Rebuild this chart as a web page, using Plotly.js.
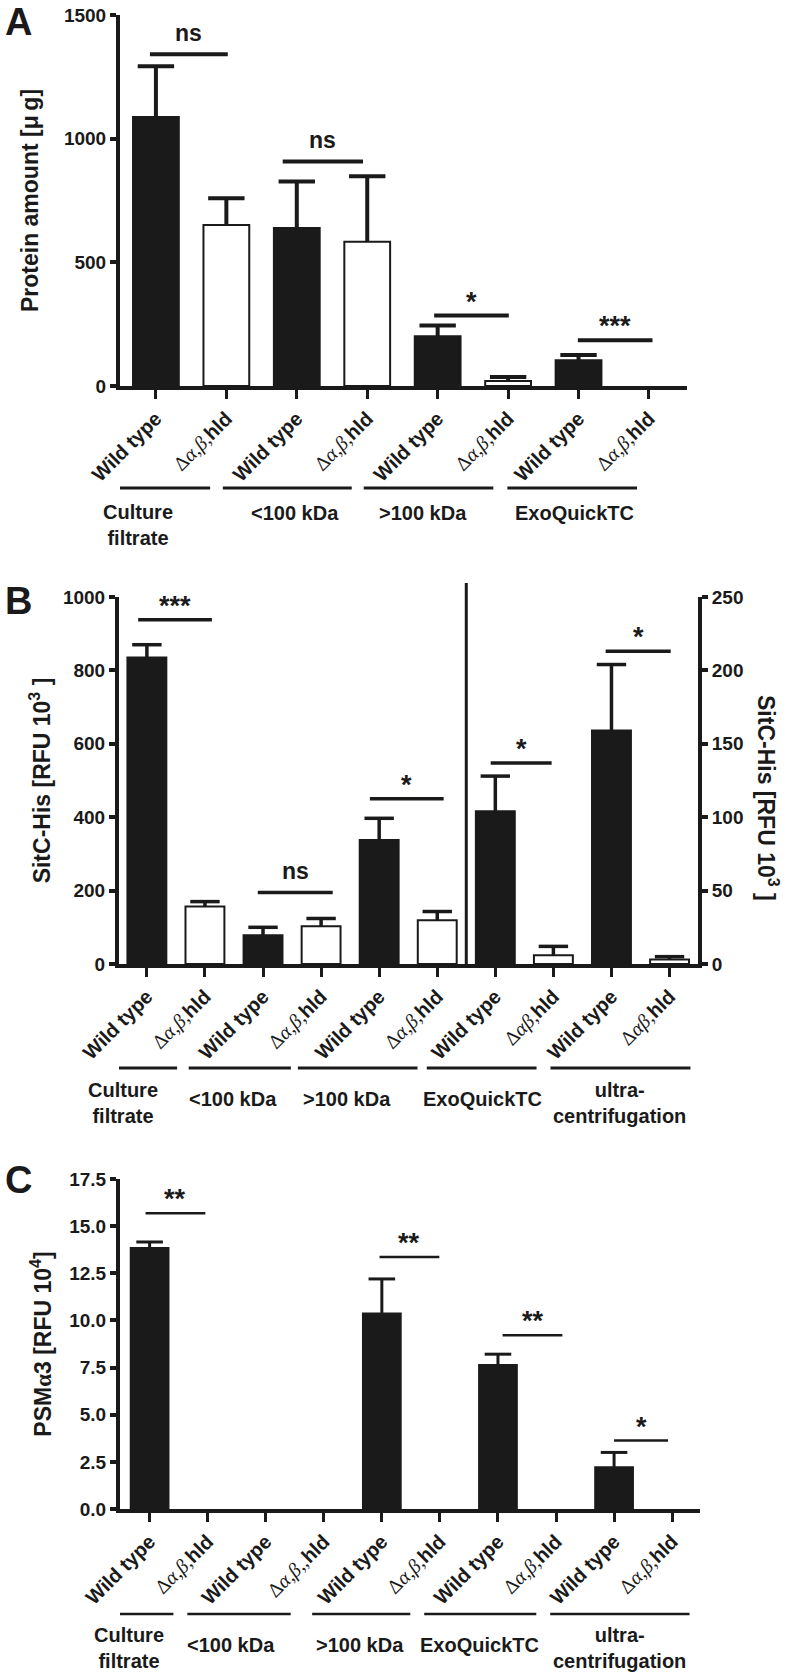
<!DOCTYPE html>
<html><head><meta charset="utf-8">
<script src="https://cdn.plot.ly/plotly-3.0.1.min.js"></script>
<style>html,body{margin:0;padding:0;background:#fff}#chart{width:800px;height:1672px}</style>
</head><body><div id="chart"></div>
<script>
// ---------------- data ----------------
const WT = '<b>Wild type</b>';
const GREEK = (s) => '<span style="font-family:Liberation Serif">' + s + '</span>';
const MUT = GREEK('Δ<i>α</i>,<i>β</i>,') + '<b>hld</b>';
const MUT_B = GREEK('Δ<i>αβ</i>,') + '<b>hld</b>';
const MUT_C = GREEK('Δ<i>α</i>,<i>β</i>,,') + '<b>hld</b>';

const ticksA = [WT, MUT, WT, MUT, WT, MUT, WT, MUT];
const ticksB = [WT, MUT, WT, MUT, WT, MUT, WT, MUT_B, WT, MUT_B];
const ticksC = [WT, MUT, WT, MUT_C, WT, MUT, WT, MUT, WT, MUT];

const groupsA = ['Culture<br>filtrate', '&lt;100 kDa', '&gt;100 kDa', 'ExoQuickTC'];
const groupsBC = ['Culture<br>filtrate', '&lt;100 kDa', '&gt;100 kDa', 'ExoQuickTC', 'ultra-<br>centrifugation'];

// Panel A: protein amount [µg]
const valuesA = [1088, 651, 639, 583, 201, 20, 104, 0];
const errorsA = [205, 108, 188, 265, 44, 16, 21, 0];
// Panel B: SitC-His [RFU 10^3]; first 6 on left axis, last 4 on right axis
const valuesB = [835, 157, 78, 103, 338, 119, 104, 6, 159, 3];
const errorsB = [35, 13, 22, 21, 59, 24, 24, 6, 45, 2];
const rightStartB = 6;
// Panel C: PSMα3 [RFU 10^4]
const valuesC = [13.84, 0, 0, 0, 10.37, 0, 7.63, 0, 2.21, 0];
const errorsC = [0.32, 0, 0, 0, 1.83, 0, 0.58, 0, 0.79, 0];

// significance brackets
const sigA_x0 = [-0.085, 1.80, 3.95, 5.99];
const sigA_x1 = [1.02, 2.94, 5.01, 7.05];
const sigA_y = [1341, 908, 285, 185];
const sigA_text = ['ns', 'ns', '*', '***'];

const sigB_x0 = [-0.15, 1.91, 3.84, 5.92, 7.90];
const sigB_x1 = [1.12, 3.20, 5.11, 6.97, 9.02];
const sigB_y = [938, 195, 450, 137, 213];
const sigB_text = ['***', 'ns', '*', '*', '*'];
const sigB_axis = ['left', 'left', 'left', 'right', 'right'];

const sigC_x0 = [-0.07, 3.96, 6.08, 8.00];
const sigC_x1 = [0.96, 4.99, 7.11, 8.93];
const sigC_y = [15.68, 13.37, 9.21, 3.63];
const sigC_text = ['**', '**', '**', '*'];

// ---------------- helpers ----------------
const INK = '#1a1a1a';
const FONT = 'Liberation Sans, Arial, sans-serif';
const H = 1672, W = 800;
const PY = px => 1 - px / H;
const PX = px => px / W;

const traces = [];
const annotations = [];
const shapes = [];

function addBars(vals, errs, idx, xa, ya, width, cap, lw) {
  const wt = idx.filter(i => i % 2 === 0), mu = idx.filter(i => i % 2 === 1);
  [[wt, INK], [mu, '#ffffff']].forEach(([ids, fill]) => {
    traces.push({type: 'bar', x: ids, y: ids.map(i => vals[i]), xaxis: xa, yaxis: ya, width: width,
      marker: {color: fill, line: {color: INK, width: ids.map(i => vals[i] > 0 ? 2 : 0)}}, hoverinfo: 'skip'});
  });
  const ex = [], ey = [], cx = [], cy = [];
  idx.forEach(i => {
    if (errs[i] > 0) {
      ex.push(i, i, null); ey.push(vals[i], vals[i] + errs[i], null);
      cx.push(i); cy.push(vals[i] + errs[i]);
    }
  });
  traces.push({type: 'scatter', mode: 'lines', x: ex, y: ey, xaxis: xa, yaxis: ya,
    line: {color: INK, width: lw}, hoverinfo: 'skip', cliponaxis: false});
  traces.push({type: 'scatter', mode: 'markers', x: cx, y: cy, xaxis: xa, yaxis: ya,
    marker: {symbol: 'line-ew', size: cap, color: INK, line: {color: INK, width: lw}}, hoverinfo: 'skip', cliponaxis: false});
}

function addSig(x0s, x1s, ys, texts, xa, yas, lw) {
  x0s.forEach((x0, k) => {
    const ya = Array.isArray(yas) ? yas[k] : yas;
    traces.push({type: 'scatter', mode: 'lines', x: [x0, x1s[k]], y: [ys[k], ys[k]], xaxis: xa, yaxis: ya,
      line: {color: INK, width: lw}, hoverinfo: 'skip', cliponaxis: false});
    const isNs = texts[k] === 'ns';
    annotations.push({xref: xa, yref: ya, x: (x0 + x1s[k]) / 2, y: ys[k], text: texts[k],
      showarrow: false, yanchor: 'bottom', yshift: isNs ? 6 : -3,
      font: {family: FONT, size: isNs ? 23 : 27, color: INK, weight: 'bold'}});
  });
}

function addGroups(labels, xa, labelX, lineX, lineY, oneLineY, twoLineY, lw) {
  labels.forEach((t, g) => {
    shapes.push({type: 'line', xref: xa, yref: 'paper', x0: lineX[g][0], x1: lineX[g][1],
      y0: PY(lineY), y1: PY(lineY), line: {color: INK, width: lw}});
    annotations.push({xref: xa, yref: 'paper', x: labelX[g], y: PY(t.includes('<br>') ? twoLineY : oneLineY),
      text: t, showarrow: false, xanchor: 'center', yanchor: 'middle',
      font: {family: FONT, size: 20, color: INK, weight: 'bold'}});
  });
}

// ---------------- Panel A ----------------
addBars(valuesA, errorsA, valuesA.map((_, i) => i), 'x', 'y', 0.65, 26, 4);
addSig(sigA_x0, sigA_x1, sigA_y, sigA_text, 'x', 'y', 4);
addGroups(groupsA, 'x', [-0.26, 1.97, 3.79, 5.94],
  [[-0.97, 0.77], [0.95, 2.78], [2.95, 4.79], [4.99, 6.83]], 488, 513, 525, 3);

// ---------------- Panel B ----------------
const idxB = valuesB.map((_, i) => i);
addBars(valuesB, errorsB, idxB.filter(i => i < rightStartB), 'x2', 'y2', 0.67, 21, 3.5);
addBars(valuesB, errorsB, idxB.filter(i => i >= rightStartB), 'x2', 'y4', 0.67, 21, 3.5);
addSig(sigB_x0, sigB_x1, sigB_y, sigB_text, 'x2', sigB_axis.map(a => a === 'left' ? 'y2' : 'y4'), 3.5);
addGroups(groupsBC, 'x2', [-0.41, 1.48, 3.44, 5.78, 8.14],
  [[-1.34, 0.52], [0.72, 2.48], [2.6, 4.66], [4.82, 6.71], [6.95, 9.36]], 1068, 1099, 1103, 3);
shapes.push({type: 'line', xref: 'x2', yref: 'paper', x0: rightStartB - 0.5, x1: rightStartB - 0.5,
  y0: PY(966), y1: PY(583), line: {color: INK, width: 3}});

// ---------------- Panel C ----------------
addBars(valuesC, errorsC, valuesC.map((_, i) => i), 'x3', 'y3', 0.65, 19, 3);
addSig(sigC_x0, sigC_x1, sigC_y, sigC_text, 'x3', 'y3', 2.5);
addGroups(groupsBC, 'x3', [-0.36, 1.41, 3.63, 5.68, 8.1],
  [[-1.14, 0.41], [0.65, 2.43], [2.8, 4.49], [4.73, 6.66], [6.9, 9.3]], 1614, 1645, 1648, 2.5);

// ---------------- letters / right title ----------------
const letters = [['A', 22], ['B', 601], ['C', 1180]];
letters.forEach(([t, y]) => annotations.push({xref: 'paper', yref: 'paper', x: PX(18), y: PY(y), text: t,
  showarrow: false, xanchor: 'center', yanchor: 'middle', font: {family: FONT, size: 38, color: INK, weight: 'bold'}}));

const TITLE_FONT = {family: FONT, size: 23, color: INK, weight: 'bold'};
const titleB = 'SitC-His [RFU 10<sup>3</sup> ]';
annotations.push({xref: 'paper', yref: 'paper', x: PX(768), y: PY(798), text: titleB,
  textangle: 90, showarrow: false, xanchor: 'center', yanchor: 'middle', font: TITLE_FONT});

// ---------------- axes ----------------
function xAxis(domain, range, ticktext, anchor) {
  return {domain: domain, range: range, anchor: anchor, showline: true, linewidth: 4, linecolor: INK,
    ticks: 'outside', ticklen: 9, tickwidth: 3, tickcolor: INK, tickvals: ticktext.map((_, i) => i),
    ticktext: ticktext, tickangle: -45, tickfont: {family: FONT, size: 20, color: INK},
    showgrid: false, zeroline: false, fixedrange: true};
}
function yAxis(domain, range, dtick, anchor, extra) {
  return Object.assign({domain: domain, range: range, anchor: anchor, showline: true, linewidth: 4, linecolor: INK,
    ticks: 'outside', ticklen: 6, tickwidth: 4, tickcolor: INK, dtick: dtick, tick0: 0,
    tickfont: {family: FONT, size: 19, color: INK, weight: 'bold'},
    showgrid: false, zeroline: false, fixedrange: true}, extra || {});
}

const layout = {
  width: W, height: H, margin: {l: 0, r: 0, t: 0, b: 0},
  paper_bgcolor: '#fff', plot_bgcolor: '#fff', showlegend: false, barmode: 'overlay',
  xaxis: xAxis([PX(120), PX(687)], [-0.51, 7.54], ticksA, 'y'),
  yaxis: yAxis([PY(386), PY(15)], [0, 1500], 500, 'x',
    {title: {text: 'Protein amount [μ\u2009g]', font: TITLE_FONT, standoff: 20}}),
  xaxis2: xAxis([PX(119), PX(698)], [-0.48, 9.49], ticksB, 'y2'),
  yaxis2: yAxis([PY(964), PY(597)], [0, 1000], 200, 'x2',
    {title: {text: titleB, font: TITLE_FONT, standoff: 7}}),
  yaxis4: yAxis([PY(964), PY(597)], [0, 250], 50, 'x2', {overlaying: 'y2', side: 'right'}),
  xaxis3: xAxis([PX(120), PX(700)], [-0.51, 9.48], ticksC, 'y3'),
  yaxis3: yAxis([PY(1509), PY(1179)], [0, 17.5], 2.5, 'x3',
    {tickformat: '.1f', title: {text: 'PSM' + GREEK('α') + '3 [RFU 10<sup>4</sup>]', font: TITLE_FONT, standoff: 12}}),
  annotations: annotations, shapes: shapes
};

Plotly.newPlot('chart', traces, layout, {staticPlot: true, displayModeBar: false});
</script></body></html>
